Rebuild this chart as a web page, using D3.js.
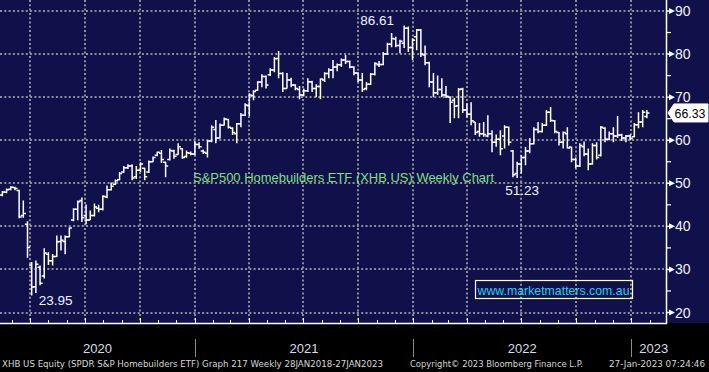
<!DOCTYPE html>
<html>
<head>
<meta charset="utf-8">
<script src="https://cdn.jsdelivr.net/npm/d3@7/dist/d3.min.js"></script>
<style>
  html, body { margin: 0; padding: 0; background: #000; }
  svg { display: block; }
</style>
</head>
<body>
<svg id="chart"></svg>
<script>
const width = 709, height = 372;

// weekly bars (week ending Friday), 14-Feb-2020 .. 27-Jan-2023
const firstWeek = "2020-02-14", lastWeek = "2023-01-27";

const opens = [
  47.3, 47.9, 48.6, 49.0, 48.3, 42.5, 40.5, 31.0, 26.0, 30.5,
  28.5, 33.5, 32.0, 33.0, 36.5, 36.5, 37.6, 41.5, 44.0, 46.0,
  42.5, 41.5, 42.5, 44.2, 44.0, 46.8, 48.5, 49.8, 50.8, 52.6,
  53.6, 54.0, 51.5, 53.0, 53.5, 52.6, 55.0, 56.5, 57.0, 54.9,
  55.5, 57.5, 56.7, 58.0, 56.2, 57.0, 56.8, 59.0, 57.5, 57.0,
  59.8, 62.5, 60.5, 63.5, 64.8, 62.8, 61.5, 63.8, 65.8, 68.0,
  70.3, 71.6, 73.5, 74.8, 75.2, 76.3, 79.0, 75.5, 72.0, 74.0,
  72.8, 71.8, 70.5, 71.5, 73.5, 72.0, 72.5, 74.0, 75.5, 76.3,
  77.0, 77.5, 78.6, 78.3, 77.0, 75.6, 74.0, 72.0, 73.0, 75.3,
  77.5, 77.6, 80.0, 82.3, 83.5, 82.0, 82.5, 86.0, 81.5, 84.0,
  85.6, 79.8, 78.0, 73.5, 71.0, 71.8, 70.5, 70.0, 69.3, 68.0,
  71.9, 67.0, 66.0, 64.2, 62.0, 61.5, 61.0, 61.5, 59.5, 60.2,
  61.0, 63.0, 57.5, 52.3, 54.5, 56.0, 57.5, 59.2, 62.5, 62.0,
  63.5, 66.5, 64.5, 61.8, 59.5, 61.5, 58.4, 55.5, 54.0, 58.5,
  56.8, 54.5, 58.8, 56.5, 62.8, 60.2, 61.5, 61.0, 61.2, 60.5,
  61.0, 60.8, 63.6, 64.2, 65.5
];
const highs = [
  48.2, 48.8, 49.3, 49.2, 48.5, 46.0, 41.2, 31.7, 32.1, 30.9,
  34.9, 34.0, 33.6, 37.9, 37.9, 37.9, 39.8, 44.2, 46.0, 46.7,
  45.1, 43.7, 45.3, 45.0, 47.2, 49.5, 50.2, 50.9, 52.6, 54.0,
  54.4, 54.4, 54.0, 54.9, 53.6, 55.3, 56.2, 57.4, 57.7, 55.0,
  58.1, 57.8, 59.3, 58.2, 57.6, 57.4, 59.8, 59.5, 57.8, 60.0,
  63.5, 64.7, 63.9, 65.3, 65.0, 63.0, 64.0, 66.3, 68.6, 70.9,
  71.6, 73.7, 75.3, 75.0, 76.7, 79.3, 80.7, 75.8, 75.6, 74.5,
  73.0, 72.6, 72.0, 74.4, 73.8, 73.0, 74.4, 75.8, 76.7, 78.6,
  77.8, 79.0, 79.8, 78.5, 77.2, 75.8, 75.6, 73.5, 75.6, 78.1,
  78.4, 80.5, 82.6, 84.9, 84.0, 83.3, 86.61, 86.4, 83.7, 85.8,
  85.8, 82.0, 78.2, 75.6, 75.0, 74.4, 72.6, 70.2, 69.8, 72.1,
  72.2, 68.6, 68.8, 64.2, 64.0, 64.2, 65.8, 62.3, 61.3, 62.3,
  63.5, 63.2, 57.7, 55.0, 56.5, 58.4, 60.5, 63.0, 64.2, 64.0,
  67.0, 67.7, 64.7, 61.9, 62.0, 63.0, 58.5, 56.0, 59.3, 59.7,
  58.1, 59.3, 59.5, 63.3, 63.0, 62.0, 63.0, 65.6, 61.5, 61.2,
  61.3, 64.0, 66.5, 67.0, 67.0
];
const lows = [
  47.0, 47.7, 48.4, 48.4, 41.9, 42.0, 32.7, 23.95, 24.5, 26.3,
  27.9, 31.0, 30.9, 32.9, 34.4, 33.5, 37.5, 41.2, 41.4, 41.0,
  40.5, 41.5, 42.3, 43.3, 43.7, 46.5, 48.3, 49.6, 50.7, 52.4,
  53.3, 50.7, 51.0, 52.6, 50.7, 52.4, 54.9, 56.3, 54.7, 51.4,
  55.3, 55.7, 56.6, 55.7, 55.9, 56.5, 56.5, 58.0, 56.8, 56.0,
  59.5, 59.3, 60.4, 63.4, 62.7, 61.2, 59.3, 63.0, 65.6, 65.6,
  69.3, 71.5, 72.3, 72.0, 74.9, 75.8, 74.4, 71.2, 72.0, 72.3,
  71.6, 69.5, 70.2, 71.2, 71.2, 70.0, 69.5, 73.5, 74.4, 74.4,
  76.0, 77.0, 77.7, 76.7, 75.1, 73.5, 71.2, 71.6, 72.8, 75.0,
  77.0, 77.4, 79.8, 81.6, 81.6, 80.2, 81.4, 80.5, 78.6, 80.9,
  79.3, 77.4, 72.3, 70.0, 70.5, 70.0, 69.8, 64.0, 65.1, 65.1,
  66.3, 65.3, 63.5, 61.2, 60.8, 60.8, 60.7, 57.2, 58.5, 56.5,
  58.1, 58.8, 51.4, 51.23, 52.3, 54.2, 57.0, 59.0, 61.6, 61.8,
  63.3, 64.2, 61.6, 58.8, 58.1, 58.1, 54.9, 53.5, 53.8, 56.3,
  53.0, 54.3, 55.5, 56.2, 59.5, 60.0, 59.5, 60.5, 59.8, 59.5,
  60.0, 60.7, 62.8, 63.0, 65.1
];
const closes = [
  48.0, 48.5, 49.1, 48.8, 42.2, 43.0, 35.1, 25.9, 31.2, 26.8,
  33.8, 32.0, 33.0, 36.4, 36.8, 37.6, 39.6, 44.0, 45.7, 42.0,
  41.5, 42.5, 44.5, 44.0, 47.0, 48.5, 49.3, 50.6, 52.3, 53.6,
  54.0, 51.2, 53.0, 54.5, 51.5, 55.0, 56.0, 57.2, 55.5, 54.0,
  57.6, 56.3, 58.5, 56.0, 57.1, 56.8, 59.0, 58.5, 57.2, 59.8,
  63.0, 60.5, 63.5, 64.9, 63.0, 61.8, 63.8, 65.8, 68.2, 70.5,
  71.3, 73.5, 74.8, 72.8, 76.3, 78.9, 75.5, 72.0, 74.0, 72.8,
  72.0, 70.5, 71.5, 73.6, 72.0, 72.5, 74.2, 75.5, 76.3, 77.0,
  77.5, 78.6, 78.3, 77.0, 75.6, 74.0, 71.8, 73.0, 75.3, 77.8,
  77.6, 80.0, 82.3, 83.6, 82.0, 83.0, 86.0, 81.5, 83.2, 85.6,
  80.0, 78.0, 73.5, 71.0, 71.8, 70.5, 70.2, 68.8, 67.9, 71.8,
  67.0, 66.0, 64.5, 61.8, 61.5, 61.3, 61.5, 59.5, 60.2, 58.0,
  63.0, 59.5, 52.0, 54.5, 56.0, 57.5, 59.2, 62.5, 62.0, 63.5,
  66.5, 64.6, 62.0, 59.5, 61.8, 58.2, 55.5, 54.0, 58.8, 56.8,
  54.5, 58.8, 56.0, 63.0, 60.2, 61.5, 61.0, 61.2, 60.5, 61.0,
  60.4, 63.6, 64.2, 66.5, 66.33
];

const yTicks = [20, 30, 40, 50, 60, 70, 80, 90];
const yMinorTicks = [25, 35, 45, 55, 65, 75, 85];
const yearLabels = ["2020", "2021", "2022", "2023"];
const lastPrice = "66.33";
const highLowNotes = [
  { text: "86.61", week: 96 },
  { text: "23.95", week: 7 },
  { text: "51.23", week: 123 }
];
const chartTitle = "S&P500 Homebuilders ETF (XHB US) Weekly Chart";
const watermark = "www.marketmatters.com.au";
const footerLeft = "XHB US Equity (SPDR S&P Homebuilders ETF) Graph 217  Weekly 28JAN2018-27JAN2023";
const footerMid = "Copyright\u00a9 2023 Bloomberg Finance L.P.";
const footerRight = "27-Jan-2023 07:24:46";

const parse = d3.timeParse("%Y-%m-%d");
const weeks = d3.timeFriday.range(parse(firstWeek), d3.timeDay.offset(parse(lastWeek), 1));
const bars = weeks.map((d, i) => ({ date: d, o: opens[i], h: highs[i], l: lows[i], c: closes[i] }));

const plot = { w: 666, h: 323 };
const navy = "#10104b";

const x = d3.scaleTime()
    .domain([parse("2020-02-10"), parse("2023-02-28")])
    .range([0, plot.w]);
const y = d3.scaleLinear()
    .domain([20, 90])
    .range([312.5, 11]);

const svg = d3.select("#chart").attr("width", width).attr("height", height);

svg.append("rect").attr("width", width).attr("height", height).attr("fill", "#000");
svg.append("rect").attr("width", width).attr("height", plot.h).attr("fill", navy);

svg.append("defs").append("clipPath").attr("id", "plotClip")
    .append("rect").attr("width", plot.w).attr("height", plot.h);

// dotted grid
const grid = svg.append("g").attr("stroke", "#8e8e96").attr("stroke-width", 2).attr("stroke-dasharray", "2,2.3");
grid.selectAll("line.h").data(yTicks).join("line").attr("class", "h")
    .attr("x1", 0).attr("x2", plot.w - 2)
    .attr("y1", d => Math.round(y(d))).attr("y2", d => Math.round(y(d)));
const quarters = d3.timeMonth.every(3).range(x.domain()[0], x.domain()[1]);
grid.selectAll("line.v").data(quarters).join("line").attr("class", "v")
    .attr("x1", d => Math.round(x(d))).attr("x2", d => Math.round(x(d)))
    .attr("y1", 0).attr("y2", plot.h - 2);

// title inside the chart
svg.append("text")
    .attr("x", 193).attr("y", 182)
    .attr("font-family", "Liberation Sans, Arial, sans-serif")
    .attr("font-size", 13.5)
    .attr("textLength", 301).attr("lengthAdjust", "spacingAndGlyphs")
    .attr("fill", "#7fe07f")
    .text(chartTitle);

// OHLC bars
const barG = svg.append("g").attr("clip-path", "url(#plotClip)");
barG.selectAll("path").data(bars).join("path")
    .attr("fill", "none")
    .attr("stroke", "#fff")
    .attr("stroke-width", 1.5)
    .attr("d", d => {
        const cx = x(d.date);
        return `M${cx},${y(d.h)}V${y(d.l)}M${cx - 2.6},${y(d.o)}H${cx}M${cx},${y(d.c)}H${cx + 2.6}`;
    });

// high / low annotations
const noteG = svg.append("g")
    .attr("font-family", "Liberation Sans, Arial, sans-serif")
    .attr("font-size", 13.5)
    .attr("fill", "#eef2ff");
const [peak, covidLow, yearLow] = highLowNotes.map(n => bars[n.week]);
noteG.append("text").attr("x", x(peak.date) - 44).attr("y", y(peak.h) - 1).text(highLowNotes[0].text);
noteG.append("text").attr("x", x(covidLow.date) + 7).attr("y", y(covidLow.l) + 10).text(highLowNotes[1].text);
noteG.append("text").attr("x", x(yearLow.date) + 5).attr("y", y(yearLow.l) + 17)
    .attr("text-anchor", "middle").text(highLowNotes[2].text);

// watermark box
svg.append("rect")
    .attr("x", 475.5).attr("y", 280.5).attr("width", 157).attr("height", 18)
    .attr("fill", "none").attr("stroke", "#fff").attr("stroke-width", 1.2);
svg.append("text")
    .attr("x", 477.5).attr("y", 294.5)
    .attr("font-family", "Liberation Sans, Arial, sans-serif")
    .attr("font-size", 13)
    .attr("textLength", 152).attr("lengthAdjust", "spacingAndGlyphs")
    .attr("fill", "#22d3e6")
    .text(watermark);

// right axis
const axisG = svg.append("g");
axisG.append("line").attr("x1", plot.w + 0.5).attr("x2", plot.w + 0.5).attr("y1", 0).attr("y2", plot.h + 1)
    .attr("stroke", "#fff").attr("stroke-width", 1.5);
axisG.selectAll("line.minor").data(yMinorTicks).join("line").attr("class", "minor")
    .attr("x1", plot.w).attr("x2", plot.w + 5)
    .attr("y1", d => y(d)).attr("y2", d => y(d))
    .attr("stroke", "#fff").attr("stroke-width", 1.2);
axisG.selectAll("path.arrow").data(yTicks).join("path").attr("class", "arrow")
    .attr("fill", "#fff")
    .attr("d", d => `M${plot.w},${y(d) - 0.7}H${plot.w + 3}L${plot.w + 3},${y(d) - 3}L${plot.w + 9},${y(d)}L${plot.w + 3},${y(d) + 3}L${plot.w + 3},${y(d) + 0.7}H${plot.w}Z`);
axisG.selectAll("text").data(yTicks).join("text")
    .attr("x", plot.w + 9).attr("y", d => y(d) + 5)
    .attr("font-family", "Liberation Sans, Arial, sans-serif")
    .attr("font-size", 14)
    .attr("fill", "#f2f2f8")
    .text(d => d);

// last price tag
const lp = y(+lastPrice);
svg.append("path")
    .attr("d", `M${plot.w + 2},${lp}L${plot.w + 8},${lp - 9}H${width - 1}V${lp + 9}H${plot.w + 8}Z`)
    .attr("fill", "#fff").attr("stroke", "#fff");
svg.append("text")
    .attr("x", plot.w + 8.5).attr("y", lp + 5)
    .attr("font-family", "Liberation Sans, Arial, sans-serif")
    .attr("font-size", 13)
    .attr("textLength", 31).attr("lengthAdjust", "spacingAndGlyphs")
    .attr("fill", "#000")
    .text(lastPrice);

// bottom axis
const bottomG = svg.append("g").attr("stroke", "#fff");
bottomG.append("line").attr("x1", 0).attr("x2", plot.w + 1).attr("y1", plot.h + 0.5).attr("y2", plot.h + 0.5)
    .attr("stroke-width", 1.5);
const months = d3.timeMonth.range(x.domain()[0], x.domain()[1]);
bottomG.selectAll("line.tick").data(months).join("line").attr("class", "tick")
    .attr("x1", d => Math.round(x(d)) + 0.5).attr("x2", d => Math.round(x(d)) + 0.5)
    .attr("y1", plot.h)
    .attr("y2", d => plot.h - (d.getMonth() % 3 === 0 ? 5 : 3))
    .attr("stroke-width", 1);

// year labels and separators
const yearStarts = yearLabels.map(t => parse(t + "-01-01"));
svg.append("g").selectAll("line").data(yearStarts.slice(1)).join("line")
    .attr("x1", d => Math.round(x(d)) + 0.5).attr("x2", d => Math.round(x(d)) + 0.5)
    .attr("y1", 339).attr("y2", 357)
    .attr("stroke", "#8a8a8a").attr("stroke-width", 1);
svg.append("g").selectAll("text").data(yearLabels).join("text")
    .attr("x", (t, i) => {
        const a = Math.max(0, x(yearStarts[i]));
        const b = i + 1 < yearStarts.length ? x(yearStarts[i + 1]) : 676;
        return (a + b) / 2;
    })
    .attr("y", 353)
    .attr("text-anchor", "middle")
    .attr("font-family", "Liberation Sans, Arial, sans-serif")
    .attr("font-size", 13)
    .attr("fill", "#d8dce8")
    .text(t => t);

// footer
const footG = svg.append("g")
    .attr("font-family", "DejaVu Sans Condensed, Liberation Sans Narrow, sans-serif")
    .attr("font-size", 9.5)
    .attr("fill", "#d6d6d6");
footG.append("text").attr("x", 2).attr("y", 367).attr("textLength", 381).attr("lengthAdjust", "spacingAndGlyphs").text(footerLeft);
footG.append("text").attr("x", 410).attr("y", 367).attr("textLength", 173).attr("lengthAdjust", "spacingAndGlyphs").text(footerMid);
footG.append("text").attr("x", 705).attr("y", 367).attr("text-anchor", "end")
    .attr("font-size", 9).attr("textLength", 96).attr("lengthAdjust", "spacingAndGlyphs").text(footerRight);
</script>
</body>
</html>
